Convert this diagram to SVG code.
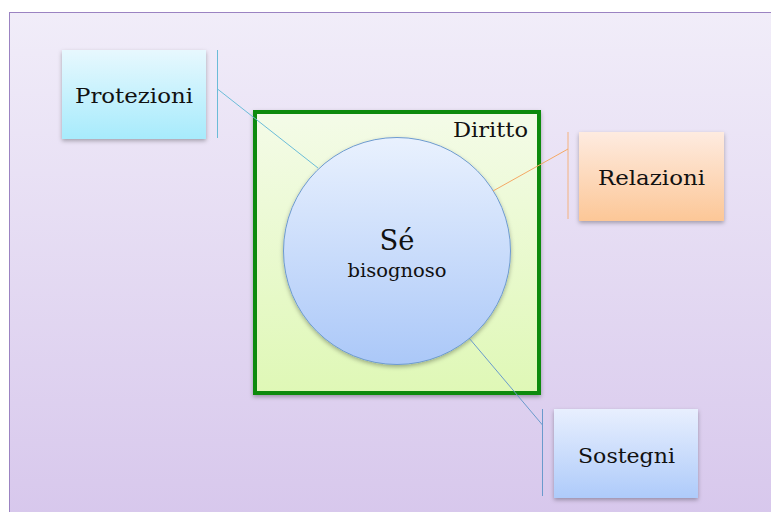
<svg xmlns="http://www.w3.org/2000/svg" width="771" height="512" viewBox="0 0 771 512">
<defs>
<linearGradient id="bg" x1="0" y1="0" x2="0" y2="1"><stop offset="0" stop-color="#f1edf9"/><stop offset="1" stop-color="#d7c7ec"/></linearGradient>
<linearGradient id="gGreen" x1="0" y1="0" x2="0" y2="1"><stop offset="0" stop-color="#f4fbe8"/><stop offset="1" stop-color="#dff8b6"/></linearGradient>
<linearGradient id="gCircle" x1="0" y1="0" x2="0" y2="1"><stop offset="0" stop-color="#e9f1fe"/><stop offset="1" stop-color="#abc8f8"/></linearGradient>
<linearGradient id="gCyan" x1="0" y1="0" x2="0" y2="1"><stop offset="0" stop-color="#e7f8fe"/><stop offset="1" stop-color="#a7ebfc"/></linearGradient>
<linearGradient id="gOrange" x1="0" y1="0" x2="0" y2="1"><stop offset="0" stop-color="#feebe0"/><stop offset="1" stop-color="#fcc797"/></linearGradient>
<linearGradient id="gBlue" x1="0" y1="0" x2="0" y2="1"><stop offset="0" stop-color="#e8effe"/><stop offset="1" stop-color="#aecbfa"/></linearGradient>
<filter id="sh" x="-20%" y="-20%" width="140%" height="140%"><feDropShadow dx="0" dy="2" stdDeviation="2" flood-color="#000" flood-opacity="0.3"/></filter>
</defs>
<style>
text{font-family:"DejaVu Serif","Liberation Serif",serif;fill:#111;}
.lbl{font-size:20px;}
.conn{fill:none;stroke-width:1;}
</style>
<rect x="0" y="0" width="771" height="512" fill="#fff"/>
<rect x="9.5" y="12.5" width="770" height="510" fill="url(#bg)" stroke="#9b83c2" stroke-width="1"/>

<g id="diritto">
<rect x="255" y="112" width="284" height="281" fill="url(#gGreen)" stroke="#0a8a0a" stroke-width="4" filter="url(#sh)"/>
<text class="lbl" x="528" y="137" text-anchor="end" textLength="75" lengthAdjust="spacingAndGlyphs">Diritto</text>
</g>

<g id="se">
<circle cx="397" cy="251" r="113.5" fill="url(#gCircle)" stroke="#6e9bd0" stroke-width="1" filter="url(#sh)"/>
<text x="397" y="250" text-anchor="middle" font-size="28" textLength="35" lengthAdjust="spacingAndGlyphs">Sé</text>
<text x="397" y="277" text-anchor="middle" font-size="18" textLength="99" lengthAdjust="spacingAndGlyphs">bisognoso</text>
</g>

<g id="protezioni">
<rect x="62" y="50" width="144" height="89" fill="url(#gCyan)" filter="url(#sh)"/>
<text class="lbl" x="134" y="103" text-anchor="middle" textLength="118" lengthAdjust="spacingAndGlyphs">Protezioni</text>
</g>

<g id="relazioni">
<rect x="579" y="132" width="145" height="89" fill="url(#gOrange)" filter="url(#sh)"/>
<text class="lbl" x="651.5" y="185" text-anchor="middle" textLength="107" lengthAdjust="spacingAndGlyphs">Relazioni</text>
</g>

<g id="sostegni">
<rect x="554" y="409" width="144" height="89" fill="url(#gBlue)" filter="url(#sh)"/>
<text class="lbl" x="626.5" y="463" text-anchor="middle" textLength="97" lengthAdjust="spacingAndGlyphs">Sostegni</text>
</g>

<g id="connectors">
<line class="conn" x1="217.5" y1="50" x2="217.5" y2="138" stroke="#6bbcd8"/>
<line class="conn" x1="217.5" y1="89" x2="318" y2="168" stroke="#6bbcd8"/>
<line class="conn" x1="568" y1="132" x2="568" y2="219" stroke="#f4b27e"/>
<line class="conn" x1="568" y1="149" x2="493" y2="191" stroke="#f4a864"/>
<line class="conn" x1="542.5" y1="409" x2="542.5" y2="496" stroke="#6a9acc"/>
<line class="conn" x1="469" y1="338" x2="542.5" y2="425" stroke="#6a9acc"/>
</g>
</svg>
